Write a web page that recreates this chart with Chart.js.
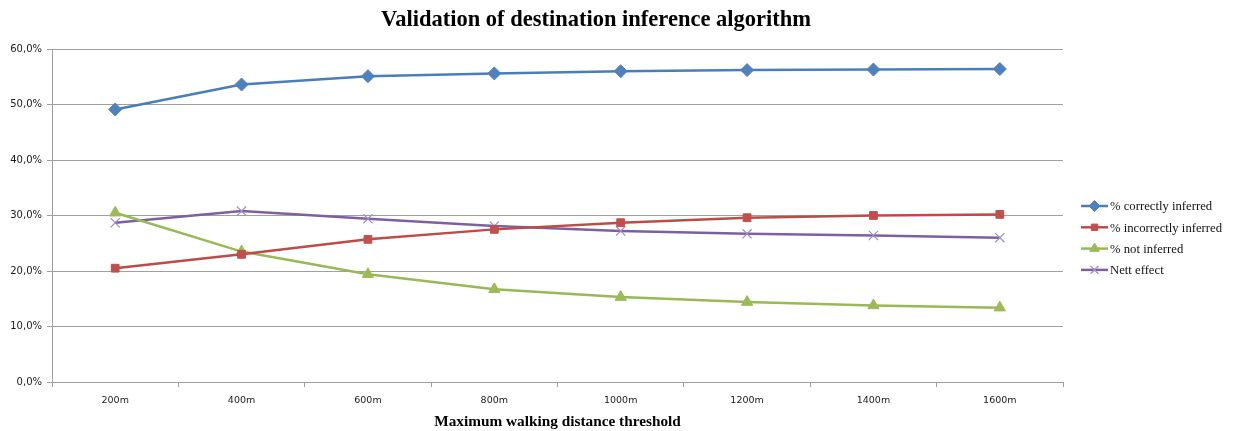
<!DOCTYPE html>
<html>
<head>
<meta charset="utf-8">
<script src="https://cdn.jsdelivr.net/npm/chart.js@4.4.0/dist/chart.umd.min.js"></script>
<style>
    html, body { margin: 0; padding: 0; background: #fff; }
    #wrap { width: 1234px; height: 431px; }
</style>
</head>
<body>
<div id="wrap"><canvas id="myChart" width="1234" height="431"></canvas></div>
<script>
const distances = ['200m', '400m', '600m', '800m', '1000m', '1200m', '1400m', '1600m'];

const correctlyInferred = [49.1, 53.6, 55.1, 55.6, 56.0, 56.2, 56.3, 56.4];
const incorrectlyInferred = [20.5, 23.0, 25.7, 27.5, 28.7, 29.6, 30.0, 30.2];
const notInferred = [30.5, 23.5, 19.4, 16.7, 15.3, 14.4, 13.8, 13.4];
const nettEffect = [28.7, 30.8, 29.4, 28.1, 27.2, 26.7, 26.4, 26.0];

const chartTitle = 'Validation of destination inference algorithm';
const xTitle = 'Maximum walking distance threshold';

const gridColor = '#a0a0a0';

// title and legend are drawn by hand, so they sit where the original has them
const extras = {
    id: 'extras',
    afterDraw(chart) {
        const ctx = chart.ctx;
        ctx.save();
        ctx.fillStyle = '#000';
        ctx.font = 'bold 22.5px "Liberation Serif"';
        ctx.textAlign = 'center';
        ctx.textBaseline = 'middle';
        ctx.fillText(chartTitle, 596, 20);

        ctx.font = '12.7px "Liberation Serif"';
        ctx.textAlign = 'left';
        chart.data.datasets.forEach((ds, i) => {
            const y = 206 + i * 21.3;
            ctx.strokeStyle = ds.borderColor;
            ctx.lineWidth = 2.5;
            ctx.beginPath();
            ctx.moveTo(1081, y);
            ctx.lineTo(1108, y);
            ctx.stroke();
            ctx.fillStyle = ds.pointBackgroundColor;
            ctx.strokeStyle = ds.pointBorderColor;
            ctx.lineWidth = ds.pointBorderWidth;
            Chart.helpers.drawPoint(ctx, {
                pointStyle: ds.pointStyle,
                radius: ds.pointRadius - 1,
                rotation: 0,
                borderWidth: ds.pointBorderWidth
            }, 1094.5, y);
            ctx.fillStyle = '#111';
            ctx.fillText(ds.label, 1110, y + 1);
        });
        ctx.restore();
    }
};

function series(label, data, line, marker, style, radius, bw) {
    return {
        label: label,
        data: data,
        borderColor: line,
        borderWidth: 2.5,
        pointStyle: style,
        pointRadius: radius,
        pointBackgroundColor: marker,
        pointBorderColor: marker,
        pointBorderWidth: bw,
        tension: 0,
        fill: false
    };
}

new Chart(document.getElementById('myChart'), {
    type: 'line',
    data: {
        labels: distances,
        datasets: [
            series('% correctly inferred', correctlyInferred, '#4a7ebb', '#4f81bd', 'rectRot', 6.5, 1),
            series('% incorrectly inferred', incorrectlyInferred, '#be4b48', '#c0504d', 'rect', 5.5, 1),
            series('% not inferred', notInferred, '#98b954', '#9bbb59', 'triangle', 6.5, 1),
            series('Nett effect', nettEffect, '#7d60a0', '#a08cc0', 'crossRot', 6.5, 1.2)
        ]
    },
    options: {
        responsive: false,
        animation: false,
        devicePixelRatio: 1,
        layout: { padding: { left: 0, right: 171, top: 49, bottom: 0 } },
        plugins: {
            legend: { display: false },
            title: { display: false },
            tooltip: { enabled: false }
        },
        scales: {
            x: {
                offset: true,
                grid: { offset: true, drawOnChartArea: false, drawTicks: true, tickLength: 5, color: gridColor },
                border: { color: gridColor, width: 1 },
                ticks: { color: '#1a1a1a', font: { family: 'DejaVu Sans', size: 9.5 }, padding: 8, maxRotation: 0 },
                title: {
                    display: true, text: xTitle, color: '#000',
                    font: { family: 'Liberation Serif', size: 15.3, weight: 'bold' },
                    padding: { top: 0, bottom: 0 }
                },
                afterFit: s => { s.height = 49; }
            },
            y: {
                min: 0, max: 60,
                grid: { color: gridColor, lineWidth: 1, tickLength: 5 },
                border: { color: gridColor, width: 1 },
                ticks: {
                    stepSize: 10,
                    color: '#1a1a1a',
                    font: { family: 'DejaVu Sans', size: 10 },
                    padding: 5,
                    callback: v => v.toFixed(1).replace('.', ',') + '%'
                },
                afterFit: s => { s.width = 52; }
            }
        }
    },
    plugins: [extras]
});
</script>
</body>
</html>
